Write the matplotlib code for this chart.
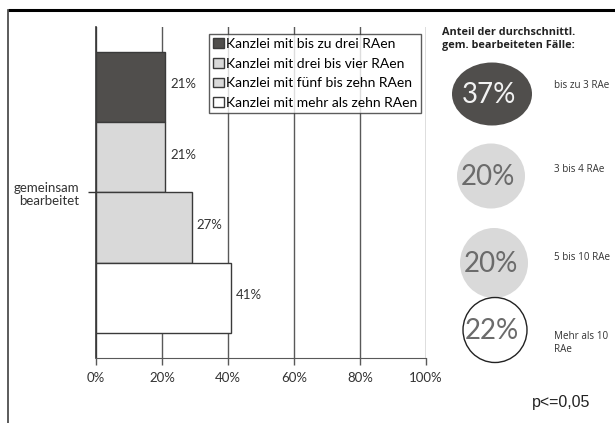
import matplotlib
matplotlib.use('Agg')
import matplotlib.pyplot as plt
from matplotlib.patches import Ellipse

plt.rcParams['font.family'] = ['Lato', 'DejaVu Sans']

# bar chart data (top to bottom)
series = ['Kanzlei mit bis zu drei RAen', 'Kanzlei mit drei bis vier RAen',
          'Kanzlei mit fünf bis zehn RAen', 'Kanzlei mit mehr als zehn RAen']
bar_values = [21, 21, 29, 41]
bar_labels = ['21%', '21%', '27%', '41%']
bar_colors = ['#504e4c', '#d9d9d9', '#d9d9d9', '#ffffff']
category = 'gemeinsam\nbearbeitet'
x_ticks = [0, 20, 40, 60, 80, 100]
x_tick_labels = ['0%', '20%', '40%', '60%', '80%', '100%']

# circle panel data
panel_title = 'Anteil der durchschnittl.\ngem. bearbeiteten Fälle:'
circle_shares = ['37%', '20%', '20%', '22%']
circle_names = ['bis zu 3 RAe', '3 bis 4 RAe', '5 bis 10 RAe', 'Mehr als 10\nRAe']
circle_fill = ['#504e4c', '#d9d9d9', '#d9d9d9', 'none']
circle_text = ['#f2f2f2', '#6b6b6b', '#6b6b6b', '#6b6b6b']
p_note = 'p<=0,05'

W, H = 615, 423
fig = plt.figure(figsize=(W / 100, H / 100), dpi=100)

# main bar chart
ax = fig.add_axes([96 / W, 1 - 358 / H, (426 - 96) / W, (358 - 27) / H])
ypos = [3, 2, 1, 0]
bars = ax.barh(ypos, bar_values, height=1.0, color=bar_colors,
               edgecolor='#3a3a3a', linewidth=1.0, zorder=3)
for y, v, lab in zip(ypos, bar_values, bar_labels):
    ax.text(v + 1.5, y + 0.04, lab, va='center', ha='left', fontsize=9.5, color='#333333')

ax.set_xlim(0, 100)
ax.set_ylim(-0.856, 3.856)
ax.set_xticks(x_ticks)
ax.set_xticklabels(x_tick_labels, fontsize=9.5, color='#333333')
ax.set_yticks([1.5])
ax.set_yticklabels([category], fontsize=9.5, color='#333333', linespacing=1.1)
ax.tick_params(axis='x', length=5, width=1, color='#595959', pad=5)
ax.tick_params(axis='y', length=6, width=1, color='#333333', pad=6)
ax.xaxis.grid(True, color='#595959', linewidth=1.0, zorder=0)
ax.set_axisbelow(True)
for s in ['top', 'right']:
    ax.spines[s].set_visible(False)
ax.spines['left'].set_color('#333333')
ax.spines['bottom'].set_color('#595959')
ax.spines['left'].set_linewidth(1.2)

leg = ax.legend(bars, series, loc='upper left', bbox_to_anchor=((209 - 96) / 330, 1 - 7 / 331),
                fontsize=10, frameon=True, fancybox=False, borderpad=0.3,
                handlelength=0.75, handleheight=0.7, handletextpad=0.15,
                labelspacing=0.55, borderaxespad=0)
leg.get_frame().set_edgecolor('#333333')
leg.get_frame().set_linewidth(1.0)

# overlay in pixel coordinates for the right panel and frame
ov = fig.add_axes([0, 0, 1, 1])
ov.set_xlim(0, W)
ov.set_ylim(H, 0)
ov.axis('off')

ov.plot([8, W], [10, 10], color='black', lw=2.2, solid_capstyle='butt')
ov.plot([8, 8], [10, H], color='#404040', lw=1.2)

ov.text(442, 27, panel_title, fontsize=7.8, fontweight='bold', family='Open Sans',
        va='top', ha='left', linespacing=1.25, color='#222222')

centers = [(492, 94), (491, 176), (494, 263), (495, 330)]
sizes = [(80, 63), (68, 65), (68, 70), (64, 65)]
label_y = [85, 170, 257, 343]
for (cx, cy), (w, h), fc, tc, share, name, ly in zip(centers, sizes, circle_fill,
                                                    circle_text, circle_shares,
                                                    circle_names, label_y):
    ec = '#222222' if fc == 'none' else 'none'
    ov.add_patch(Ellipse((cx, cy), w, h, facecolor=fc, edgecolor=ec, lw=1.0))
    ov.text(cx - 3, cy + 1, share, fontsize=20, color=tc, ha='center', va='center')
    ov.text(554, ly, name, fontsize=7.1, family='Open Sans', color='#333333',
            ha='left', va='center', linespacing=1.15)

ov.text(532, 403, p_note, fontsize=11.5, family='Liberation Sans', color='#222222',
        ha='left', va='center')

fig.savefig('out.png', dpi=100)
